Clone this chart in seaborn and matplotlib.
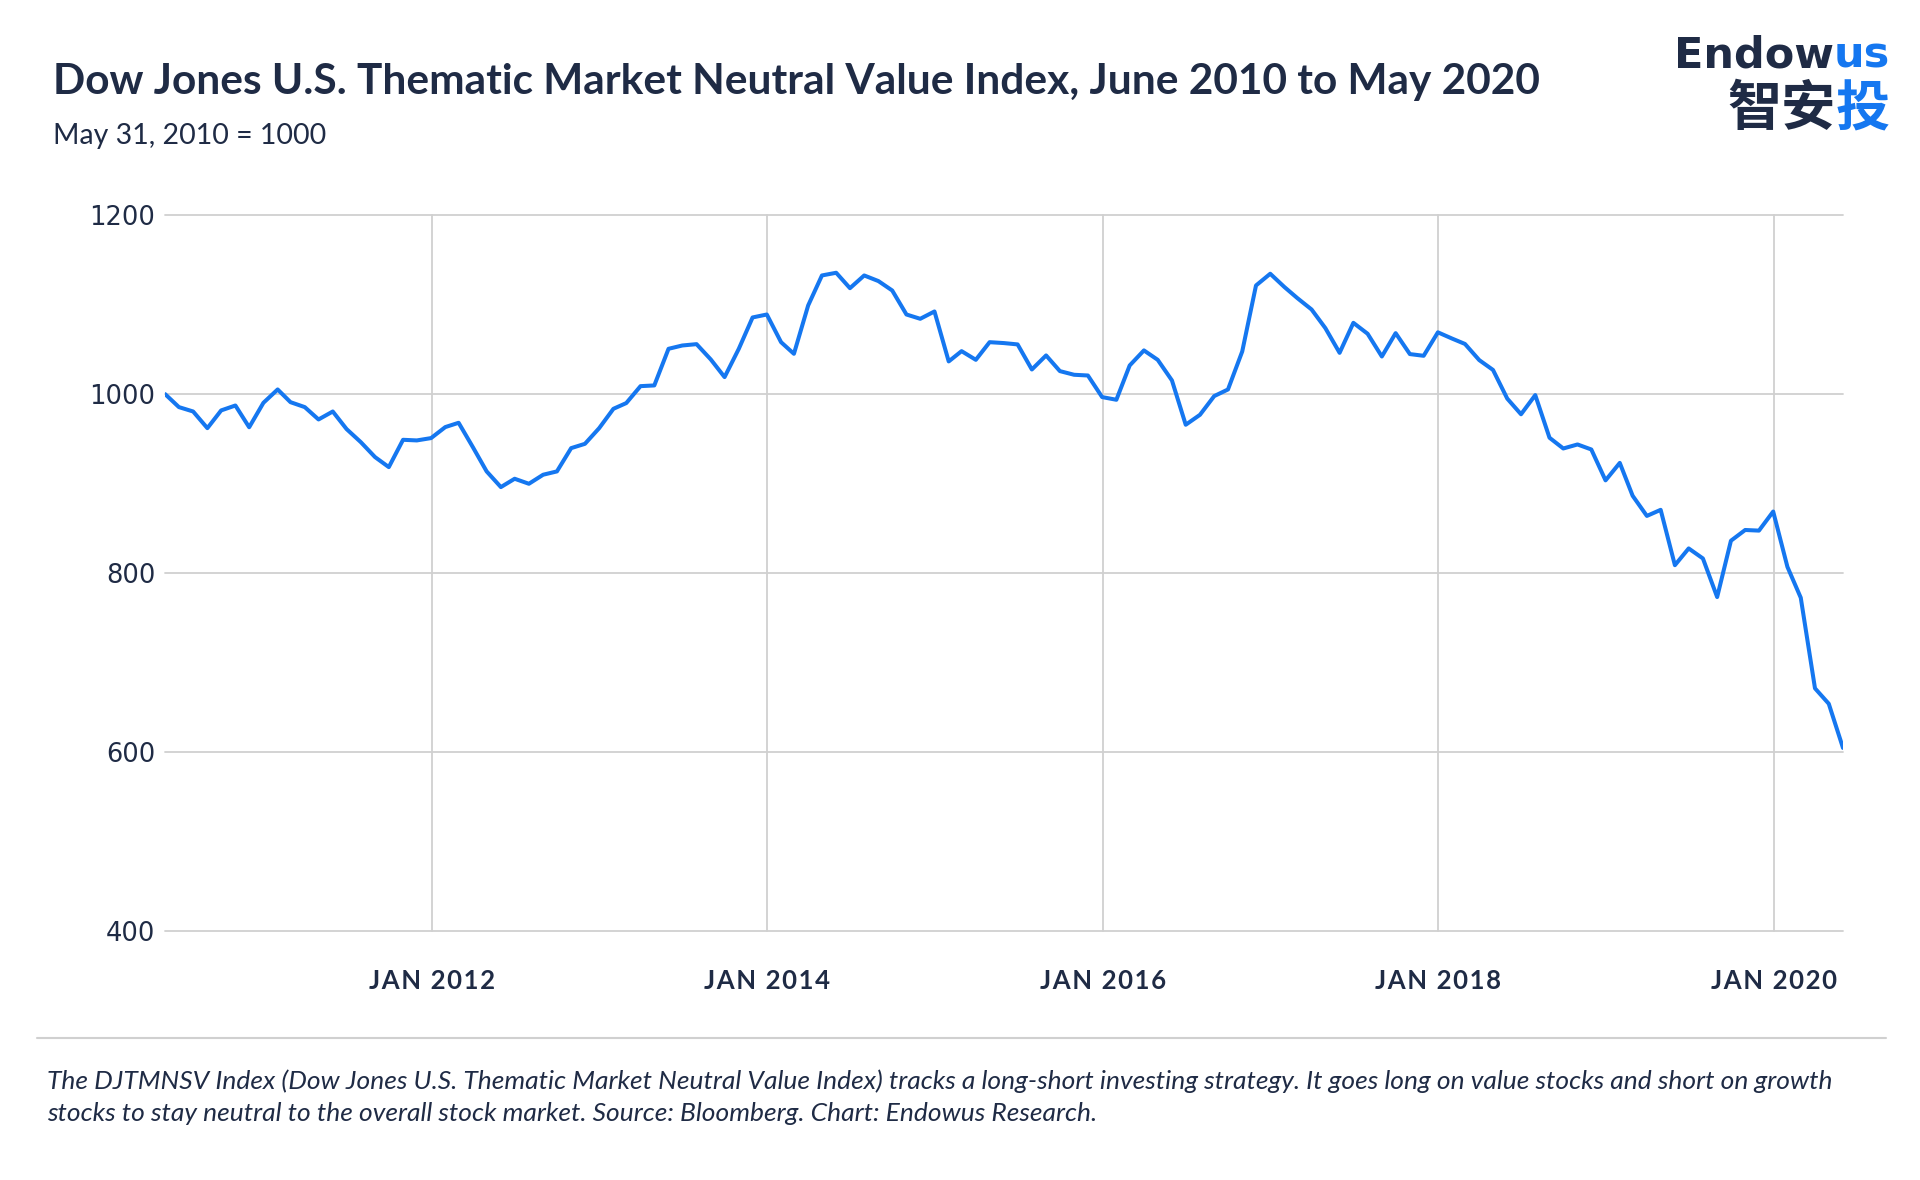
import matplotlib.pyplot as plt
import matplotlib as mpl
from matplotlib.lines import Line2D
import pandas as pd
import seaborn as sns

sns.set_theme(style='white')
mpl.rcParams['font.family'] = ['Lato', 'DejaVu Sans']

NAVY = '#1f2b45'
BLUE = '#1577f0'
GRID = '#d0d0d0'

# month-end index levels, May 2010 .. May 2020 (May 31, 2010 = 1000)
dates = pd.date_range('2010-05-31', '2020-05-31', freq='ME')
index_values = [
    1000, 985.5, 980.6, 962, 981.8, 987.3, 963, 990.3, 1005.2, 991,
    985.5, 971.7, 980.6, 961, 946.4, 929.7, 918.5, 949, 948.3, 950.9,
    963.2, 968, 940.8, 913.7, 896.2, 905.5, 899.9, 910, 913.7, 939.7,
    944.5, 962, 983.6, 990, 1008.9, 1009.7, 1050.6, 1054.3, 1055.8, 1038.7,
    1019, 1050.6, 1085.6, 1088.9, 1058, 1045, 1099, 1132.5, 1135.5, 1118.3,
    1132.5, 1126.2, 1115.7, 1088.9, 1084.1, 1092.3, 1036.5, 1048, 1038.3, 1058,
    1057, 1055.5, 1027.5, 1043.2, 1025.7, 1021.6, 1020.8, 996.7, 993.7, 1032,
    1048.8, 1038.3, 1015.3, 965.8, 976.9, 997.8, 1005.2, 1047.6, 1121.3, 1134.4,
    1119.5, 1107.2, 1094.5, 1073.7, 1046.1, 1079.6, 1067.4, 1042, 1068.1, 1044.7,
    1042.8, 1069, 1062, 1056, 1038, 1027, 995, 977.5, 998.9, 951.3,
    939.3, 943.8, 938.2, 903.7, 923.2, 886.5, 864, 870.8, 809, 827.7,
    816.5, 773.4, 836.3, 848.3, 847.6, 868.9, 807.1, 772.7, 671.5, 654.3,
    604.9,
]
tick_years = [2012, 2014, 2016, 2018, 2020]
y_ticks = [400, 600, 800, 1000, 1200]

df = pd.DataFrame({'date': dates, 'value': index_values})

fig = plt.figure(figsize=(19.2, 11.8), dpi=100)
ax = fig.add_axes([0.086, 0.2106, 0.8739, 0.6072])
sns.lineplot(data=df, x='date', y='value', ax=ax, color=BLUE, linewidth=2.9)

ax.set_xlim(dates[0], dates[-1])
ax.set_ylim(400, 1200)
ax.set_yticks(y_ticks)
ax.set_yticklabels([str(v) for v in y_ticks], family=['DejaVu Sans'], fontsize=18.5, color=NAVY)
ax.set_xticks([pd.Timestamp(f'{y}-01-01') for y in tick_years])
ax.set_xticklabels(['\u200a'.join(f'JAN {y}') for y in tick_years],
                   fontsize=18.5, fontweight='bold', color=NAVY)
ax.set_xlabel('')
ax.set_ylabel('')
ax.grid(True, color=GRID, linewidth=1.3)
for gl in ax.get_ygridlines() + ax.get_xgridlines():
    gl.set_clip_on(False)
for s in ax.spines.values():
    s.set_visible(False)
ax.tick_params(axis='x', length=0, pad=27)
ax.tick_params(axis='y', length=0, pad=7)

# header
fig.text(53 / 1920, 1 - 94 / 1180, 'Dow Jones U.S. Thematic Market Neutral Value Index, June 2010 to May 2020',
         fontsize=30.5, fontweight='bold', color=NAVY, va='baseline')
fig.text(53 / 1920, 1 - 144 / 1180, 'May 31, 2010 = 1000', fontsize=20.5, color=NAVY, va='baseline')

# logo
fig.canvas.draw()
r = fig.canvas.get_renderer()
x_right = 1890 / 1920
t_us = fig.text(x_right, 1 - 68 / 1180, 'us', family=['DejaVu Sans'], fontsize=31,
                fontweight='bold', color=BLUE, ha='right', va='baseline')
w = t_us.get_window_extent(r).width / fig.bbox.width
fig.text(x_right - w, 1 - 68 / 1180, 'Endow', family=['DejaVu Sans'], fontsize=31,
         fontweight='bold', color=NAVY, ha='right', va='baseline')
t_tou = fig.text(x_right, 1 - 125 / 1180, '投', family=['Noto Sans CJK SC'], fontsize=39,
                 fontweight='bold', color=BLUE, ha='right', va='baseline')
w = t_tou.get_window_extent(r).width / fig.bbox.width
fig.text(x_right - w, 1 - 125 / 1180, '智安', family=['Noto Sans CJK SC'], fontsize=39,
         fontweight='bold', color=NAVY, ha='right', va='baseline')

# footer
fig.add_artist(Line2D([37 / 1920, 1886 / 1920], [1 - 1038 / 1180] * 2, color=GRID,
                      linewidth=1.5, transform=fig.transFigure))
fig.text(47 / 1920, 1 - 1089 / 1180,
         'The DJTMNSV Index (Dow Jones U.S. Thematic Market Neutral Value Index) tracks a long-short '
         'investing strategy. It goes long on value stocks and short on growth',
         fontsize=19, style='italic', color=NAVY, va='baseline')
fig.text(47 / 1920, 1 - 1121 / 1180,
         'stocks to stay neutral to the overall stock market. Source: Bloomberg. Chart: Endowus Research.',
         fontsize=19, style='italic', color=NAVY, va='baseline')

fig.savefig('out.png', dpi=100)
plt.close(fig)
